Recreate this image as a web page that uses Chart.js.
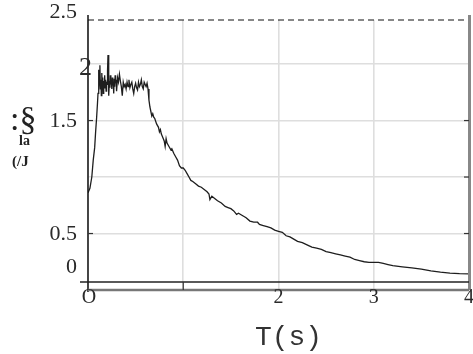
<!DOCTYPE html>
<html>
<head>
<meta charset="utf-8">
<script src="https://cdn.jsdelivr.net/npm/chart.js@4/dist/chart.umd.min.js"></script>
<style>
  html, body { margin: 0; padding: 0; background: #fff; }
  #wrap { width: 473px; height: 354px; }
</style>
</head>
<body>
<div id="wrap"><canvas id="c" width="473" height="354"></canvas></div>
<script>
// Period T (s) of the response spectrum
const periods = [
  0.00, 0.02, 0.04, 0.055, 0.07, 0.08, 0.09, 0.10, 0.105, 0.11, 0.115, 0.12, 0.125, 0.13, 0.135,
  0.14, 0.145, 0.15, 0.155, 0.16, 0.165, 0.17, 0.175, 0.18, 0.185, 0.19, 0.195, 0.20, 0.205, 0.21,
  0.215, 0.22, 0.225, 0.23, 0.235, 0.24, 0.245, 0.25, 0.255, 0.26, 0.265, 0.27, 0.275, 0.28, 0.285,
  0.29, 0.295, 0.30, 0.31, 0.32, 0.33, 0.34, 0.35, 0.36, 0.37, 0.38, 0.39, 0.40, 0.41, 0.42,
  0.43, 0.44, 0.45, 0.46, 0.47, 0.48, 0.49, 0.50, 0.51, 0.52, 0.53, 0.54, 0.55, 0.56, 0.57,
  0.58, 0.59, 0.60, 0.61, 0.62, 0.63, 0.64, 0.65, 0.66, 0.67, 0.68, 0.69, 0.70, 0.72, 0.74,
  0.75, 0.76, 0.77, 0.78, 0.80, 0.81, 0.82, 0.83, 0.85, 0.87, 0.88, 0.90, 0.92, 0.94, 0.96,
  0.98, 1.00, 1.02, 1.04, 1.06, 1.08, 1.10, 1.13, 1.16, 1.19, 1.22, 1.25, 1.27, 1.28, 1.30,
  1.33, 1.36, 1.40, 1.44, 1.47, 1.50, 1.53, 1.56, 1.58, 1.62, 1.66, 1.70, 1.74, 1.78, 1.80,
  1.84, 1.88, 1.92, 1.96, 2.00, 2.04, 2.08, 2.12, 2.16, 2.20, 2.25, 2.30, 2.35, 2.40, 2.45,
  2.50, 2.55, 2.60, 2.65, 2.70, 2.75, 2.80, 2.85, 2.90, 2.95, 3.00, 3.05, 3.10, 3.15, 3.20,
  3.30, 3.40, 3.50, 3.60, 3.70, 3.80, 3.90, 4.00
];

// Spectral acceleration at each period
const spectralAcc = [
  0.86, 0.90, 1.00, 1.15, 1.26, 1.40, 1.52, 1.66, 1.74, 1.95, 1.76, 1.90, 1.99, 1.78, 1.86,
  1.72, 1.92, 1.80, 1.88, 1.74, 1.85, 1.79, 1.90, 1.80, 1.86, 1.76, 1.83, 1.82, 1.94, 2.08,
  1.80, 1.72, 1.85, 1.79, 1.90, 1.82, 1.86, 1.78, 1.88, 1.81, 1.84, 1.74, 1.87, 1.80, 1.90,
  1.83, 1.86, 1.76, 1.88, 1.84, 1.91, 1.85, 1.80, 1.72, 1.84, 1.80, 1.82, 1.78, 1.84, 1.80,
  1.86, 1.79, 1.82, 1.84, 1.78, 1.74, 1.80, 1.83, 1.79, 1.77, 1.84, 1.80, 1.82, 1.86, 1.80,
  1.78, 1.84, 1.82, 1.80, 1.83, 1.78, 1.68, 1.62, 1.58, 1.54, 1.56, 1.53, 1.52, 1.47, 1.44,
  1.40, 1.42, 1.38, 1.36, 1.32, 1.27, 1.34, 1.30, 1.27, 1.24, 1.25, 1.21, 1.18, 1.15, 1.10,
  1.08, 1.08, 1.06, 1.03, 1.00, 0.97, 0.96, 0.94, 0.92, 0.91, 0.89, 0.87, 0.85, 0.80, 0.83,
  0.81, 0.79, 0.77, 0.74, 0.73, 0.72, 0.70, 0.67, 0.68, 0.66, 0.64, 0.61, 0.60, 0.60, 0.58,
  0.57, 0.56, 0.55, 0.53, 0.52, 0.51, 0.48, 0.47, 0.45, 0.43, 0.42, 0.40, 0.38, 0.37, 0.36,
  0.34, 0.33, 0.32, 0.31, 0.30, 0.29, 0.27, 0.26, 0.25, 0.245, 0.245, 0.245, 0.235, 0.225, 0.215,
  0.205, 0.195, 0.185, 0.170, 0.158, 0.150, 0.145, 0.142
];

// Axis ticks and their printed labels
const xTickValues = [0, 2, 3, 4];
const xTickLabels = ['O', '2', '3', '4'];
const xGridValues = [0, 1, 2, 3, 4];
const yTickValues = [2.5, 2, 1.5, 0.5, 0];
const yTickLabels = ['2.5', '2', '1.5', '0.5', '0'];
const yGridValues = [0, 0.5, 1, 1.5, 2];

const SERIF = '"Liberation Serif", "DejaVu Serif", serif';

// Frame, tick labels and axis titles drawn straight onto the canvas
const frameAndText = {
  id: 'frameAndText',
  afterDraw(chart) {
    const { ctx, chartArea: a, scales: { x, y } } = chart;
    ctx.save();

    // left axis
    ctx.strokeStyle = '#111';
    ctx.lineWidth = 1.5;
    ctx.beginPath(); ctx.moveTo(a.left, a.top - 5); ctx.lineTo(a.left, a.bottom + 2); ctx.stroke();

    // dashed upper limit
    ctx.lineWidth = 1.2;
    ctx.setLineDash([6, 4]);
    ctx.beginPath(); ctx.moveTo(a.left, a.top); ctx.lineTo(a.right, a.top); ctx.stroke();
    ctx.setLineDash([]);

    // right border
    ctx.strokeStyle = '#888';
    ctx.lineWidth = 3;
    ctx.beginPath(); ctx.moveTo(a.right + 0.5, a.top - 5); ctx.lineTo(a.right + 0.5, a.bottom); ctx.stroke();

    // bottom border
    ctx.strokeStyle = '#777';
    ctx.lineWidth = 2.5;
    ctx.beginPath(); ctx.moveTo(a.left, a.bottom); ctx.lineTo(a.right, a.bottom); ctx.stroke();

    // base line just above the bottom border
    const baseY = a.bottom - 8;
    ctx.strokeStyle = '#222';
    ctx.lineWidth = 1.3;
    ctx.beginPath(); ctx.moveTo(a.left - 8, baseY); ctx.lineTo(a.right, baseY); ctx.stroke();

    // inward tick marks
    ctx.strokeStyle = '#333';
    ctx.lineWidth = 1.2;
    [1.5, 0.5].forEach(v => {
      const py = y.getPixelForValue(v);
      ctx.beginPath(); ctx.moveTo(a.left, py); ctx.lineTo(a.left + 5, py); ctx.stroke();
    });
    [1.5, 1, 0.5].forEach(v => {
      const py = y.getPixelForValue(v);
      ctx.beginPath(); ctx.moveTo(a.right - 5, py); ctx.lineTo(a.right, py); ctx.stroke();
    });
    [1].forEach(v => {
      const px = x.getPixelForValue(v);
      ctx.beginPath(); ctx.moveTo(px, baseY); ctx.lineTo(px, a.bottom); ctx.stroke();
    });

    // y tick labels
    ctx.fillStyle = '#2a2a2a';
    ctx.textAlign = 'right';
    ctx.textBaseline = 'middle';
    yTickValues.forEach((v, i) => {
      let py = y.getPixelForValue(v);
      let px = a.left - 11;
      ctx.font = '22px ' + SERIF;
      if (v === 0) py -= 24;
      if (v === 2.5) py += 4;
      if (v === 2) { ctx.font = '26px ' + SERIF; px = a.left + 4; py += 3; }
      ctx.fillText(yTickLabels[i], px, py + 1);
    });

    // x tick labels
    ctx.font = '20px ' + SERIF;
    ctx.textAlign = 'center';
    ctx.textBaseline = 'top';
    xTickValues.forEach((v, i) => {
      const px = x.getPixelForValue(v) + (v === 0 ? 1 : 0);
      ctx.fillText(xTickLabels[i], px, a.bottom - 2);
    });

    // x title
    ctx.fillStyle = '#333';
    ctx.font = '28px "Liberation Mono", "DejaVu Sans Mono", monospace';
    ctx.textBaseline = 'middle';
    ctx.fillText('T(s)', (a.left + a.right) / 2 + 10, 338);

    // y title
    ctx.textAlign = 'left';
    ctx.fillStyle = '#222';
    ctx.font = '34px ' + SERIF;
    ctx.fillText(':§', 10, 121);
    ctx.font = 'bold 14px ' + SERIF;
    ctx.fillText('la', 19, 141);
    ctx.font = 'bold 15px ' + SERIF;
    ctx.fillText('(/J', 12, 162);

    ctx.restore();
  }
};

const points = periods.map((t, i) => ({ x: t, y: spectralAcc[i] }));

new Chart(document.getElementById('c'), {
  type: 'line',
  data: {
    datasets: [{
      data: points,
      borderColor: '#1e1e1e',
      borderWidth: 1.3,
      pointRadius: 0,
      tension: 0,
      fill: false
    }]
  },
  options: {
    responsive: false,
    animation: false,
    layout: { padding: { left: 0, top: 20, right: 4, bottom: 0 } },
    plugins: { legend: { display: false }, tooltip: { enabled: false } },
    scales: {
      x: {
        type: 'linear',
        min: 0,
        max: 4,
        afterBuildTicks: s => { s.ticks = xGridValues.map(v => ({ value: v })); },
        afterFit: s => { s.height = 64; },
        ticks: { display: false },
        border: { display: false },
        grid: { color: '#dedede', lineWidth: 1.6, drawTicks: false }
      },
      y: {
        type: 'linear',
        min: 0,
        max: 2.39,
        afterBuildTicks: s => { s.ticks = yGridValues.map(v => ({ value: v })); },
        afterFit: s => { s.width = 88; },
        ticks: { display: false },
        border: { display: false },
        grid: { color: '#dedede', lineWidth: 1.6, drawTicks: false }
      }
    }
  },
  plugins: [frameAndText]
});
</script>
</body>
</html>
